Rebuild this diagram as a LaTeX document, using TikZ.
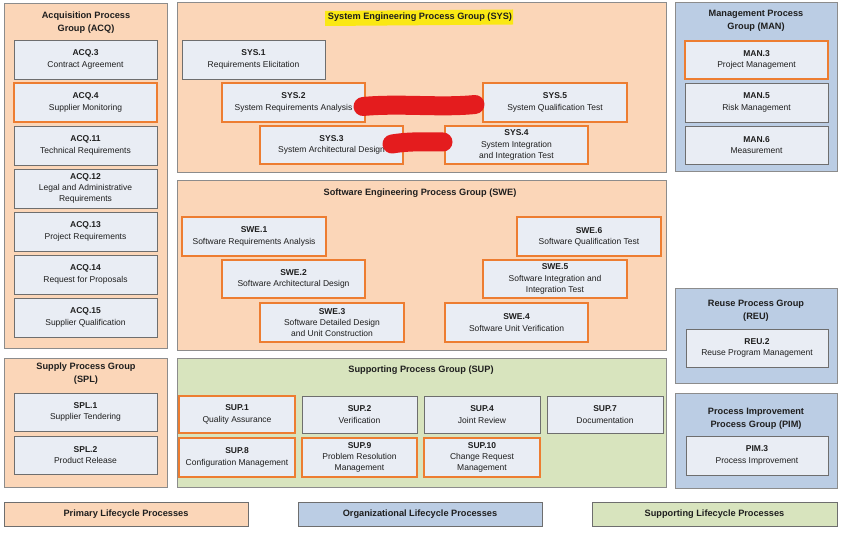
\documentclass[tikz,border=0pt]{standalone}
\usepackage{fontspec}
\setmainfont{Liberation Sans}
\definecolor{peach}{RGB}{251,214,184}
\definecolor{bluegrp}{RGB}{187,205,228}
\definecolor{greengrp}{RGB}{216,228,190}
\definecolor{boxfill}{RGB}{233,237,244}
\definecolor{boxline}{RGB}{110,110,110}
\definecolor{grpline}{RGB}{140,140,140}
\definecolor{orangeline}{RGB}{237,125,49}
\definecolor{scribble}{RGB}{228,28,30}
\definecolor{marker}{RGB}{250,232,20}
\definecolor{txt}{RGB}{30,30,30}
\newcommand\pb[7]{\node[#1, minimum width={#5-#3}, minimum height={#6-#4}] (#2) at ({(#3+#5)/2},{(#4+#6)/2}) {#7};}
\tikzset{
  every node/.style={inner sep=0pt, align=center, text=txt, font=\fontsize{8.5}{11.3}\selectfont},
  grp/.style={draw=grpline, line width=0.8pt},
  peachgrp/.style={grp, fill=peach},
  bluebox/.style={grp, fill=bluegrp},
  greenbox/.style={grp, fill=greengrp},
  plainbox/.style={draw=boxline, fill=boxfill, line width=0.7pt},
  orbox/.style={draw=orangeline, fill=boxfill, line width=1.8pt},
  gtitle/.style={font=\fontsize{9.2}{13}\selectfont\bfseries},
  legendbox/.style={draw=boxline, line width=0.7pt, font=\fontsize{9.2}{11}\selectfont\bfseries},
}
\begin{document}
\begin{tikzpicture}[x=1pt,y=-1pt]
\useasboundingbox (0,0) rectangle (846,534);
\fill[white] (0,0) rectangle (846,534);
% groups
\pb{peachgrp}{acq}{4}{3}{167}{348}{}
\pb{peachgrp}{sys}{177}{2}{666}{172}{}
\pb{peachgrp}{swe}{177}{180}{666}{350}{}
\pb{peachgrp}{spl}{4}{358}{167}{487}{}
\pb{greenbox}{sup}{177}{358}{666}{487}{}
\pb{bluebox}{man}{675}{2}{837}{171}{}
\pb{bluebox}{reu}{675}{288}{837}{383}{}
\pb{bluebox}{pim}{675}{393}{837}{488}{}
% highlight
\fill[marker] (325,11) -- (513,9.5) -- (513,24.5) -- (325,26) -- cycle;
% titles
\node[gtitle] (acqt) at (86,22.5) {Acquisition Process\\Group (ACQ)};
\node[gtitle] (syst) at (420,17) {System Engineering Process Group (SYS)};
\node[gtitle] (swet) at (420,193) {Software Engineering Process Group (SWE)};
\node[gtitle] (splt) at (86,374) {Supply Process Group\\(SPL)};
\node[gtitle] (supt) at (421,370) {Supporting Process Group (SUP)};
\node[gtitle] (mant) at (756,21) {Management Process\\Group (MAN)};
\node[gtitle] (reut) at (756,311) {Reuse Process Group\\(REU)};
\node[gtitle] (pimt) at (756,419) {Process Improvement\\Process Group (PIM)};
% ACQ
\pb{plainbox}{acq3}{14}{40}{157}{79}{\textbf{ACQ.3}\\Contract Agreement}
\pb{orbox}{acq4}{14}{83}{157}{122}{\textbf{ACQ.4}\\Supplier Monitoring}
\pb{plainbox}{acq11}{14}{126}{157}{165}{\textbf{ACQ.11}\\Technical Requirements}
\pb{plainbox}{acq12}{14}{169}{157}{208}{\textbf{ACQ.12}\\Legal and Administrative\\Requirements}
\pb{plainbox}{acq13}{14}{212}{157}{251}{\textbf{ACQ.13}\\Project Requirements}
\pb{plainbox}{acq14}{14}{255}{157}{294}{\textbf{ACQ.14}\\Request for Proposals}
\pb{plainbox}{acq15}{14}{298}{157}{337}{\textbf{ACQ.15}\\Supplier Qualification}
% SYS
\pb{plainbox}{sys1}{182}{40}{325}{79}{\textbf{SYS.1}\\Requirements Elicitation}
\pb{orbox}{sys2}{222}{83}{365}{122}{\textbf{SYS.2}\\System Requirements Analysis}
\pb{orbox}{sys5}{483}{83}{627}{122}{\textbf{SYS.5}\\System Qualification Test}
\pb{orbox}{sys3}{260}{126}{403}{164}{\textbf{SYS.3}\\System Architectural Design}
\pb{orbox}{sys4}{445}{126}{588}{164}{\textbf{SYS.4}\\System Integration\\and Integration Test}
% SWE
\pb{orbox}{swe1}{182}{217}{326}{256}{\textbf{SWE.1}\\Software Requirements Analysis}
\pb{orbox}{swe2}{222}{260}{365}{298}{\textbf{SWE.2}\\Software Architectural Design}
\pb{orbox}{swe3}{260}{303}{404}{342}{\textbf{SWE.3}\\Software Detailed Design\\and Unit Construction}
\pb{orbox}{swe6}{517}{217}{661}{256}{\textbf{SWE.6}\\Software Qualification Test}
\pb{orbox}{swe5}{483}{260}{627}{298}{\textbf{SWE.5}\\Software Integration and\\Integration Test}
\pb{orbox}{swe4}{445}{303}{588}{342}{\textbf{SWE.4}\\Software Unit Verification}
% SPL
\pb{plainbox}{spl1}{14}{393}{157}{431}{\textbf{SPL.1}\\Supplier Tendering}
\pb{plainbox}{spl2}{14}{436}{157}{474}{\textbf{SPL.2}\\Product Release}
% SUP
\pb{orbox}{sup1}{179}{396}{295}{433}{\textbf{SUP.1}\\Quality Assurance}
\pb{plainbox}{sup2}{302}{396}{417}{433}{\textbf{SUP.2}\\Verification}
\pb{plainbox}{sup4}{424}{396}{540}{433}{\textbf{SUP.4}\\Joint Review}
\pb{plainbox}{sup7}{547}{396}{663}{433}{\textbf{SUP.7}\\Documentation}
\pb{orbox}{sup8}{179}{438}{295}{477}{\textbf{SUP.8}\\Configuration Management}
\pb{orbox}{sup9}{302}{438}{417}{477}{\textbf{SUP.9}\\Problem Resolution\\Management}
\pb{orbox}{sup10}{424}{438}{540}{477}{\textbf{SUP.10}\\Change Request\\Management}
% MAN
\pb{orbox}{man3}{685}{41}{828}{79}{\textbf{MAN.3}\\Project Management}
\pb{plainbox}{man5}{685}{83}{828}{122}{\textbf{MAN.5}\\Risk Management}
\pb{plainbox}{man6}{685}{126}{828}{164}{\textbf{MAN.6}\\Measurement}
% REU / PIM
\pb{plainbox}{reu2}{686}{329}{828}{367}{\textbf{REU.2}\\Reuse Program Management}
\pb{plainbox}{pim3}{686}{436}{828}{475}{\textbf{PIM.3}\\Process Improvement}
% legend
\pb{legendbox, fill=peach}{lgprim}{4}{502}{248}{526}{Primary Lifecycle Processes}
\pb{legendbox, fill=bluegrp}{lgorg}{298}{502}{542}{526}{Organizational Lifecycle Processes}
\pb{legendbox, fill=greengrp}{lgsup}{592}{502}{837}{526}{Supporting Lifecycle Processes}
% scribbles
\draw[scribble, line width=19pt, line cap=round] (363,106.5) .. controls (400,103) and (440,108) .. (475,104.5);
\draw[scribble, line width=19pt, line cap=round] (392,144) .. controls (410,141) and (425,142) .. (443,142);
\end{tikzpicture}
\end{document}
